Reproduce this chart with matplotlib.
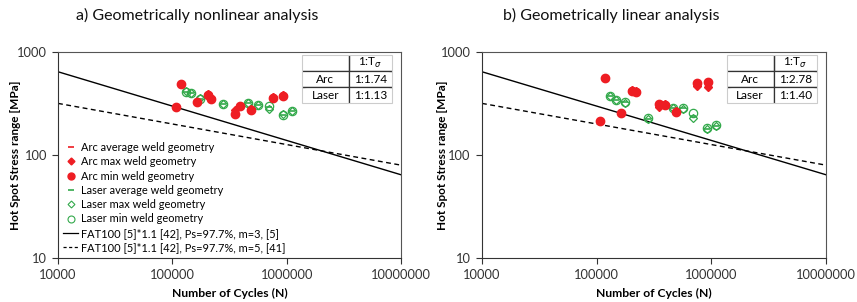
import matplotlib
matplotlib.use("Agg")
import matplotlib.pyplot as plt
from matplotlib.lines import Line2D
from matplotlib.patches import Rectangle
import numpy as np

plt.rcParams['font.family'] = ['Lato', 'DejaVu Sans']

RED = '#ee1d23'
GREEN = '#33a94b'

# design curves (FAT100*1.1), end points at N=1e4 and N=1e7
fat_N = [1e4, 1e7]
fat_m3 = [643, 64.3]
fat_m5 = [317, 79.7]

# a) geometrically nonlinear
a_arc_N = [108e3, 119e3, 163e3, 204e3, 218e3, 353e3, 394e3, 488e3, 755e3, 935e3]
a_arc_min = [290, 485, 325, 385, 352, 250, 299, 275, 360, 374]
a_arc_max = [292, 490, 328, 390, 356, 273, 302, 278, 364, 380]
a_arc_avg = [291, 487, 326, 387, 354, 262, 300, 276, 362, 377]
a_las_N = [132e3, 146e3, 176e3, 279e3, 459e3, 565e3, 697e3, 922e3, 1.11e6]
a_las_min = [410, 397, 350, 313, 318, 305, 299, 246, 265]
a_las_max = [414, 400, 356, 315, 322, 308, 282, 248, 268]
a_las_avg = [412, 398, 353, 314, 320, 306, 290, 247, 266]

# b) geometrically linear
b_arc_N = [108e3, 118e3, 164e3, 205e3, 219e3, 352e3, 394e3, 492e3, 745e3, 929e3]
b_arc_min = [214, 563, 254, 421, 410, 310, 308, 263, 497, 508]
b_arc_max = [212, 555, 258, 427, 415, 292, 312, 267, 468, 454]
b_arc_avg = [213, 559, 256, 424, 412, 300, 310, 265, 482, 480]
b_las_N = [131e3, 147e3, 177e3, 281e3, 466e3, 563e3, 697e3, 916e3, 1.1e6]
b_las_min = [374, 342, 325, 227, 286, 284, 254, 182, 194]
b_las_max = [370, 340, 322, 225, 284, 282, 227, 178, 192]
b_las_avg = [372, 341, 324, 226, 285, 283, 240, 180, 193]

a_ratio = ['1:1.74', '1:1.13']
b_ratio = ['1:2.78', '1:1.40']
titles = ['a) Geometrically nonlinear analysis', 'b) Geometrically linear analysis']

fig = plt.figure(figsize=(8.57, 3.02), dpi=100)
ax_a = fig.add_axes([0.0677, 0.1457, 0.4002, 0.6821])
ax_b = fig.add_axes([0.5624, 0.1457, 0.4014, 0.6821])


def draw(ax, arc_N, arc_min, arc_max, arc_avg, las_N, las_min, las_max, las_avg, ratio, ylab_x):
    ax.set_xscale('log')
    ax.set_yscale('log')
    ax.set_xlim(1e4, 1e7)
    ax.set_ylim(10, 1000)
    ax.plot(fat_N, fat_m3, color='black', lw=1.0, zorder=2)
    ax.plot(fat_N, fat_m5, color='black', lw=1.0, ls=(0, (3.5, 2.5)), zorder=2)

    ax.plot(las_N, las_avg, ls='none', marker='_', ms=5, mew=1.2, color=GREEN, zorder=3)
    ax.plot(las_N, las_max, ls='none', marker='D', ms=4, mew=0.9, mfc='none', mec=GREEN, zorder=3)
    ax.plot(las_N, las_min, ls='none', marker='o', ms=6, mew=0.9, mfc='none', mec=GREEN, zorder=3)
    ax.plot(arc_N, arc_avg, ls='none', marker='_', ms=5, mew=1.2, color=RED, zorder=4)
    ax.plot(arc_N, arc_max, ls='none', marker='D', ms=4.5, color=RED, zorder=4)
    ax.plot(arc_N, arc_min, ls='none', marker='o', ms=6, color=RED, zorder=4)

    ax.minorticks_off()
    ax.set_xticks([1e4, 1e5, 1e6, 1e7])
    ax.set_xticklabels(['10000', '100000', '1000000', '10000000'])
    ax.set_yticks([10, 100, 1000])
    ax.set_yticklabels(['10', '100', '1000'])
    ax.tick_params(direction='out', length=4, width=0.8, labelsize=9.3, pad=4, colors='#333333')
    for s in ['top', 'right']:
        ax.spines[s].set_color('#555555')
    for s in ['left', 'bottom']:
        ax.spines[s].set_color('#333333')
    ax.set_xlabel('Number of Cycles (N)', fontsize=8.7, fontweight='bold', labelpad=5)
    ax.set_ylabel('Hot Spot Stress range [MPa]', fontsize=8.5, fontweight='bold')
    ax.yaxis.set_label_coords(ylab_x, 0.5)

    # ratio table
    cells = [['', '1:T$_\\sigma$'], ['Arc', ratio[0]], ['Laser', ratio[1]]]
    x0 = (302 - 58) / 343
    x1 = (392 - 58) / 343
    y0 = 1 - (103 - 52) / 206
    y1 = 1 - (55 - 52) / 206
    tab = ax.table(cellText=cells, cellLoc='center', colWidths=[0.52, 0.48],
                   bbox=[x0, y0, x1 - x0, y1 - y0], zorder=5)
    tab.auto_set_font_size(False)
    tab.set_fontsize(8.5)
    for (r, c), cell in tab.get_celld().items():
        edges = ''
        if r > 0:
            edges += 'T'
        if r < 2:
            edges += 'B'
        if c == 0:
            edges += 'R'
        else:
            edges += 'L'
        cell.visible_edges = edges
        cell.set_edgecolor('#333333')
        cell.set_linewidth(0.9)
        cell.set_facecolor('white')
    ax.add_patch(Rectangle((x0, y0), x1 - x0, y1 - y0, transform=ax.transAxes,
                           fill=False, edgecolor='#cccccc', lw=0.8, zorder=6))


draw(ax_a, a_arc_N, a_arc_min, a_arc_max, a_arc_avg,
     a_las_N, a_las_min, a_las_max, a_las_avg, a_ratio, -0.108)
draw(ax_b, b_arc_N, b_arc_min, b_arc_max, b_arc_avg,
     b_las_N, b_las_min, b_las_max, b_las_avg, b_ratio, -0.100)

fig.text(197 / 857, 1 - 15 / 302, titles[0], ha='center', va='center', fontsize=11.5, color='#111111')
fig.text(611 / 857, 1 - 15 / 302, titles[1], ha='center', va='center', fontsize=11.5, color='#111111')

handles = [
    Line2D([], [], ls='none', marker='_', ms=5, mew=1.2, color=RED),
    Line2D([], [], ls='none', marker='D', ms=3.5, color=RED),
    Line2D([], [], ls='none', marker='o', ms=5, color=RED),
    Line2D([], [], ls='none', marker='_', ms=5, mew=1.2, color=GREEN),
    Line2D([], [], ls='none', marker='D', ms=3.5, mfc='none', mec=GREEN, mew=0.8),
    Line2D([], [], ls='none', marker='o', ms=5, mfc='none', mec=GREEN, mew=0.8),
    Line2D([], [], color='black', lw=0.9),
    Line2D([], [], color='black', lw=0.9, ls=(0, (2.5, 2))),
]
labels = ['Arc average weld geometry', 'Arc max weld geometry', 'Arc min weld geometry',
          'Laser average weld geometry', 'Laser max weld geometry', 'Laser min weld geometry',
          'FAT100 [5]*1.1 [42], Ps=97.7%, m=3, [5]',
          'FAT100 [5]*1.1 [42], Ps=97.7%, m=5, [41]']
ax_a.legend(handles, labels, loc='lower left', frameon=False, fontsize=7.9,
            labelspacing=0.3, handlelength=1.4, handletextpad=0.2,
            borderaxespad=0.25, borderpad=0.2)

fig.savefig('out.png', dpi=100)
